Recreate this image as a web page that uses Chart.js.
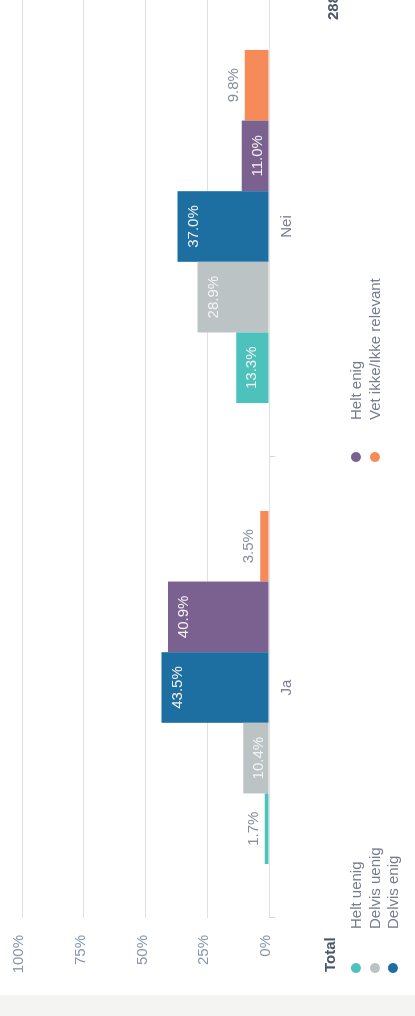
<!DOCTYPE html>
<html>
<head>
<meta charset="utf-8">
<script src="https://cdn.jsdelivr.net/npm/chart.js@4"></script>
<style>
  body { margin: 0; background: #f4f5f3; width: 415px; height: 1016px; overflow: hidden;
         font-family: "Liberation Sans", Arial, sans-serif; }
  /* the chart is drawn lying on its side, as in the screenshot */
  #panel { position: absolute; left: 0; top: 0; width: 1020px; height: 415px; background: #fff;
           transform-origin: 0 0; transform: translateY(995px) rotate(-90deg); }
  #chart { position: absolute; left: 0; top: 0; }
  .title { position: absolute; font-weight: bold; font-size: 15px; color: #4b5668; line-height: 18px; }
  .item { position: absolute; font-size: 15px; color: #777b8e; line-height: 18px; white-space: nowrap; }
  .dot { position: absolute; width: 10px; height: 10px; border-radius: 50%; }
</style>
</head>
<body>
<div id="panel">
  <canvas id="chart" width="1020" height="415"></canvas>
  <div class="title" style="left:23px; top:321px;">Total</div>
  <div class="title" style="left:975px; top:324px;">288</div>
  <div id="legend"></div>
</div>
<script>
const categories = ['Ja', 'Nei'];
const seriesNames = ['Helt uenig', 'Delvis uenig', 'Delvis enig', 'Helt enig', 'Vet ikke/Ikke relevant'];
const seriesColors = ['#4dc1bc', '#bcc3c5', '#1d6fa1', '#7a6190', '#f68a59'];
const heltUenig = [1.7, 13.3];
const delvisUenig = [10.4, 28.9];
const delvisEnig = [43.5, 37.0];
const heltEnig = [40.9, 11.0];
const vetIkke = [3.5, 9.8];
const yTicks = [0, 25, 50, 75, 100];

const seriesValues = [heltUenig, delvisUenig, delvisEnig, heltEnig, vetIkke];

Chart.defaults.font.family = '"Liberation Sans", Arial, sans-serif';
Chart.defaults.font.size = 15;

// value labels: inside the bar top when there is room, else just above it
const valueLabels = {
    id: 'valueLabels',
    afterDatasetsDraw(chart) {
        const ctx = chart.ctx;
        ctx.save();
        ctx.font = '15px "Liberation Sans", Arial, sans-serif';
        ctx.textAlign = 'center';
        ctx.textBaseline = 'middle';
        chart.data.datasets.forEach((ds, i) => {
            chart.getDatasetMeta(i).data.forEach((bar, j) => {
                const text = ds.data[j].toFixed(1) + '%';
                const inside = bar.base - bar.y >= 25;
                ctx.fillStyle = inside ? '#f3f3f3' : '#868d9a';
                ctx.fillText(text, bar.x, inside ? bar.y + 16 : bar.y - 11);
            });
        });
        ctx.restore();
    }
};

const ctx = document.getElementById('chart').getContext('2d');
const myChart = new Chart(ctx, {
    type: 'bar',
    data: {
        labels: categories,
        datasets: seriesNames.map((name, i) => ({
            label: name,
            data: seriesValues[i],
            backgroundColor: seriesColors[i],
            borderWidth: 0,
            barPercentage: 1,
            categoryPercentage: 0.766
        }))
    },
    options: {
        responsive: false,
        animation: false,
        devicePixelRatio: 1,
        layout: { padding: { top: 22, right: 21, left: 0, bottom: 0 } },
        plugins: { legend: { display: false }, tooltip: { enabled: false } },
        scales: {
            x: {
                offset: true,
                grid: { offset: true, drawOnChartArea: false, drawTicks: true, tickLength: 6, color: '#ccd6eb' },
                border: { display: true, color: '#e2e2e2' },
                ticks: { color: '#7b7e92', padding: 3 },
                afterFit: function (scale) { scale.height = 146; }
            },
            y: {
                min: 0,
                max: 100,
                afterBuildTicks: function (scale) {
                    scale.ticks = yTicks.map(v => ({ value: v }));
                },
                ticks: {
                    color: '#8795aa',
                    padding: 17,
                    labelOffset: -3,
                    callback: function (value) { return value + '%'; }
                },
                grid: { color: '#e0e0e0', drawTicks: false },
                border: { display: false },
                afterFit: function (scale) {
                    scale.width = 77;
                    scale.paddingTop = 0;
                    scale.paddingBottom = 0;
                }
            }
        }
    },
    plugins: [valueLabels]
});

// legend laid out in columns of three, like the original
const legend = document.getElementById('legend');
seriesNames.forEach((name, i) => {
    const col = Math.floor(i / 3);
    const row = i % 3;
    const dot = document.createElement('div');
    dot.className = 'dot';
    dot.style.background = seriesColors[i];
    dot.style.left = (22 + col * 511) + 'px';
    dot.style.top = (351 + row * 18.5) + 'px';
    legend.appendChild(dot);
    const item = document.createElement('div');
    item.className = 'item';
    item.textContent = name;
    item.style.left = (66 + col * 509) + 'px';
    item.style.top = (347 + row * 18.5) + 'px';
    legend.appendChild(item);
});
</script>
</body>
</html>
